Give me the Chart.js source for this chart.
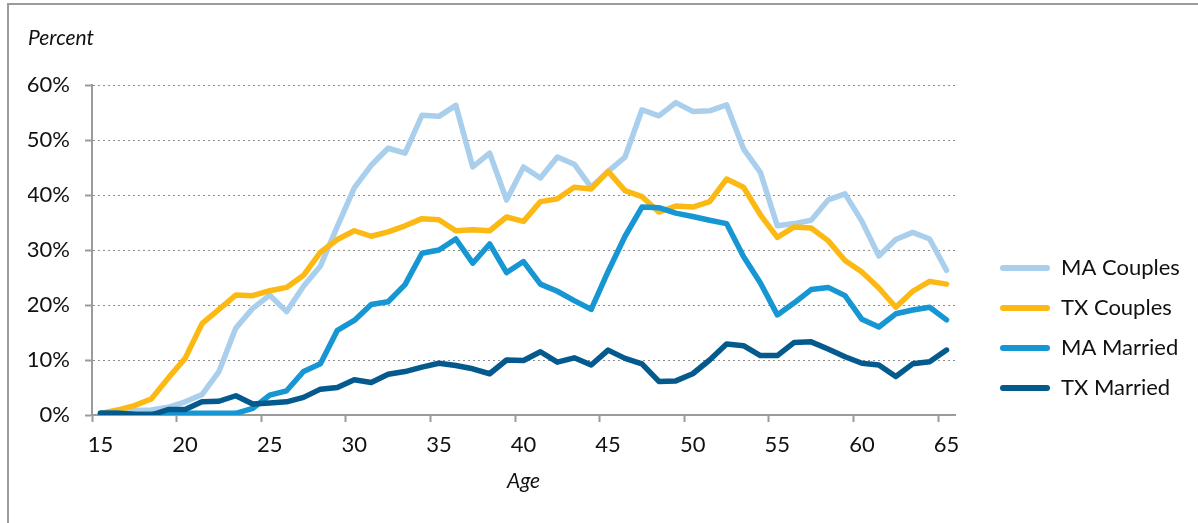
<!DOCTYPE html>
<html><head><meta charset="utf-8">
<script src="https://cdn.jsdelivr.net/npm/chart.js@4.4.1/dist/chart.umd.min.js"></script>
<style>
html,body{margin:0;padding:0;background:#fff;}
#wrap{position:relative;width:1198px;height:523px;overflow:hidden;}
#frame{position:absolute;left:7px;top:3px;right:-20px;bottom:-20px;border-top:2px solid #9b9b9b;border-left:2px solid #9b9b9b;}
#c{position:absolute;left:0;top:0;}
</style></head><body>
<div id="wrap"><div id="frame"></div><canvas id="c" width="1198" height="523"></canvas></div>
<script>
const ages = [15,16,17,18,19,20,21,22,23,24,25,26,27,28,29,30,31,32,33,34,35,36,37,38,39,40,
  41,42,43,44,45,46,47,48,49,50,51,52,53,54,55,56,57,58,59,60,61,62,63,64,65];
const xTickLabels = ['15','20','25','30','35','40','45','50','55','60','65'];
const yTickLabels = ['0%','10%','20%','30%','40%','50%','60%'];
const seriesNames = ['MA Couples','TX Couples','MA Married','TX Married'];

const maCouples = [0.3,0.6,0.8,0.9,1.4,2.4,3.7,7.9,15.8,19.4,21.8,18.8,23.4,27.1,34.3,41.3,
  45.4,48.5,47.6,54.5,54.3,56.3,45.1,47.6,39.1,45.1,43.1,46.9,45.6,41.4,44.3,46.9,55.5,54.4,56.8,
  55.2,55.3,56.4,48.4,44.1,34.4,34.8,35.4,39.1,40.2,35.2,28.9,31.9,33.2,32.0,26.3];
const txCouples = [0.3,0.9,1.7,2.9,6.7,10.3,16.6,19.2,21.8,21.7,22.6,23.2,25.4,29.6,31.9,33.5,
  32.5,33.3,34.4,35.7,35.5,33.5,33.7,33.5,36.0,35.2,38.8,39.3,41.4,41.1,44.3,40.8,39.7,36.9,38.0,
  37.8,38.8,42.9,41.4,36.4,32.3,34.2,34.0,31.7,28.1,26.0,23.1,19.6,22.5,24.3,23.8];
const maMarried = [0.3,0.3,0.2,0.2,0.3,0.3,0.3,0.3,0.3,1.2,3.6,4.4,7.9,9.3,15.4,17.2,
  20.1,20.6,23.7,29.4,30.0,32.0,27.6,31.1,25.9,27.9,23.8,22.5,20.8,19.2,26.1,32.5,37.8,37.7,36.7,
  36.1,35.4,34.8,28.8,24.0,18.2,20.4,22.8,23.2,21.7,17.4,16.0,18.4,19.1,19.6,17.3];
const txMarried = [0.3,0.3,0.1,0.0,1.0,1.0,2.4,2.5,3.5,2.0,2.2,2.4,3.2,4.7,5.0,6.4,
  5.9,7.4,7.9,8.7,9.4,9.0,8.4,7.5,10.0,9.9,11.5,9.6,10.4,9.1,11.8,10.3,9.3,6.1,6.2,
  7.5,10.0,12.9,12.6,10.8,10.8,13.2,13.3,12.0,10.6,9.4,9.1,7.0,9.3,9.7,11.8];

const colors = ['#a9cfec','#fdb913','#1696d2','#045a8d'];
const seriesData = [maCouples, txCouples, maMarried, txMarried];

const FONT = 'Lato';
const TICK_FONT = 22, TITLE_FONT = 21;
const LEG_FONT = 22, LEG_PAD = 18, LEG_BOX = 50;
// chart area right edge target -> compute right padding from legend natural width
const mctx = document.createElement('canvas').getContext('2d');
mctx.font = LEG_FONT + 'px ' + FONT;
const maxTextW = Math.max(...seriesNames.map(s => mctx.measureText(s).width));
const legendW = LEG_PAD + LEG_BOX + LEG_FONT / 2 + maxTextW + 10;
const padRight = 1198 - 955 - legendW;

const placeLegend = {
  id: 'placeLegend',
  afterLayout(chart) {
    const l = chart.legend; if (!l) return;
    const w = l.width, h = l.height;
    l.left = 1000 - LEG_PAD; l.right = l.left + w;
    l.top = 268 - LEG_PAD - LEG_FONT / 2; l.bottom = l.top + h;
  }
};

Chart.defaults.font.family = FONT;
new Chart(document.getElementById('c'), {
  type: 'line',
  data: {
    labels: ages,
    datasets: seriesNames.map((n, i) => ({
      label: n, data: seriesData[i], borderColor: colors[i], backgroundColor: colors[i],
      borderWidth: 5.5, pointRadius: 0, pointHoverRadius: 0, tension: 0, fill: false,
      borderCapStyle: 'round', borderJoinStyle: 'round', order: 3 - i
    }))
  },
  options: {
    responsive: false, animation: false, devicePixelRatio: 1,
    events: [],
    layout: { padding: { left: 28, top: 0, right: padRight, bottom: 0 } },
    plugins: {
      tooltip: { enabled: false },
      title: {
        display: true, text: 'Percent', align: 'start', color: '#111',
        font: { family: FONT, size: TITLE_FONT, style: 'italic', weight: 'normal' },
        padding: { top: 25.4, bottom: 34.4 }
      },
      legend: {
        display: true, position: 'right', align: 'start',
        labels: {
          boxWidth: LEG_BOX, boxHeight: 6, padding: LEG_PAD, color: '#111',
          useBorderRadius: true, borderRadius: 3,
          font: { family: FONT, size: LEG_FONT },
          sort: (a, b) => a.datasetIndex - b.datasetIndex,
          generateLabels: chart => Chart.defaults.plugins.legend.labels.generateLabels(chart)
            .map(it => Object.assign(it, { lineWidth: 0 }))
        }
      }
    },
    scales: {
      x: {
        type: 'category', offset: true,
        grid: {
          offset: true, drawOnChartArea: false, drawTicks: true, tickLength: 7, tickWidth: 2,
          tickColor: ctx => (ctx.index !== undefined && xTickLabels.includes(String(ages[ctx.index]))) ? '#9b9b9b' : 'rgba(0,0,0,0)'
        },
        border: { display: true, color: '#9b9b9b', width: 2 },
        ticks: {
          autoSkip: false, maxRotation: 0, minRotation: 0, padding: 10, color: '#111',
          font: { family: FONT, size: TICK_FONT },
          callback: (v, i) => xTickLabels.includes(String(ages[i])) ? String(ages[i]) : ''
        },
        title: {
          display: true, text: 'Age', color: '#111',
          font: { family: FONT, size: TITLE_FONT, style: 'italic' },
          padding: { top: 0, bottom: 29.4 }
        },
        afterFit: s => { s.height = 108; }
      },
      y: {
        min: 0, max: 60,
        ticks: {
          stepSize: 10, padding: 15, color: '#111', font: { family: FONT, size: TICK_FONT },
          callback: v => yTickLabels[Math.round(v / 10)]
        },
        grid: { color: '#8c8c8c', lineWidth: 1, drawTicks: true, tickLength: 7, tickWidth: 2, tickColor: '#9b9b9b' },
        border: { display: true, color: '#9b9b9b', width: 2, dash: [2, 3] },
        afterFit: s => { s.width = 64; }
      }
    }
  },
  plugins: [placeLegend]
});
</script>
</body></html>
